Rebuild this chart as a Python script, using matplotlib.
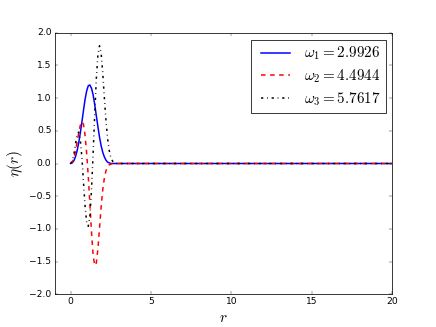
import matplotlib
matplotlib.use("Agg")
import matplotlib.pyplot as plt

plt.style.use("classic")
plt.rcParams["mathtext.fontset"] = "cm"

# === data ===
r_vals = [0.0, 0.1, 0.2, 0.3, 0.4, 0.5, 0.6, 0.7, 0.8, 0.9,
          1.0, 1.1, 1.2, 1.3, 1.4, 1.5, 1.6, 1.7, 1.8, 1.9,
          2.0, 2.1, 2.2, 2.3, 2.4, 2.5, 2.6, 2.7, 2.8, 20.0]

eta_1 = [0.00, 0.01, 0.04, 0.10, 0.19, 0.31, 0.46, 0.63, 0.81, 0.98,
         1.11, 1.19, 1.20, 1.15, 1.05, 0.90, 0.73, 0.56, 0.40, 0.27,
         0.17, 0.10, 0.05, 0.02, 0.01, 0.00, 0.00, 0.00, 0.00, 0.00]

eta_2 = [0.00, 0.02, 0.08, 0.18, 0.32, 0.46, 0.58, 0.64, 0.60, 0.43,
         0.15, -0.20, -0.62, -1.05, -1.40, -1.56, -1.52, -1.30, -0.98, -0.66,
         -0.40, -0.22, -0.11, -0.05, -0.02, -0.01, 0.00, 0.00, 0.00, 0.00]

eta_3 = [0.00, 0.03, 0.13, 0.29, 0.44, 0.48, 0.37, 0.10, -0.28, -0.65,
         -0.90, -0.96, -0.80, -0.40, 0.15, 0.75, 1.30, 1.67, 1.80, 1.68,
         1.38, 1.00, 0.65, 0.38, 0.20, 0.09, 0.04, 0.01, 0.00, 0.00]

labels = [r"$\omega_1 = 2.9926$", r"$\omega_2 = 4.4944$", r"$\omega_3 = 5.7617$"]

# === plot ===
fig = plt.figure(figsize=(8, 6), dpi=54.5)
plt.plot(r_vals, eta_1, "b-", lw=2, label=labels[0])
plt.plot(r_vals, eta_2, "r--", lw=2, label=labels[1])
plt.plot(r_vals, eta_3, "k-.", lw=2, label=labels[2])
plt.xlim(-1, 20)
plt.ylim(-2, 2)
plt.xlabel(r"$r$", fontsize=20)
plt.ylabel(r"$\eta(r)$", fontsize=20)
plt.legend(loc="upper right", fontsize=20, borderpad=0.35, labelspacing=0.35,
           handlelength=2.5, handletextpad=0.6, borderaxespad=0.45)
plt.savefig("out.png", dpi=54.5)
